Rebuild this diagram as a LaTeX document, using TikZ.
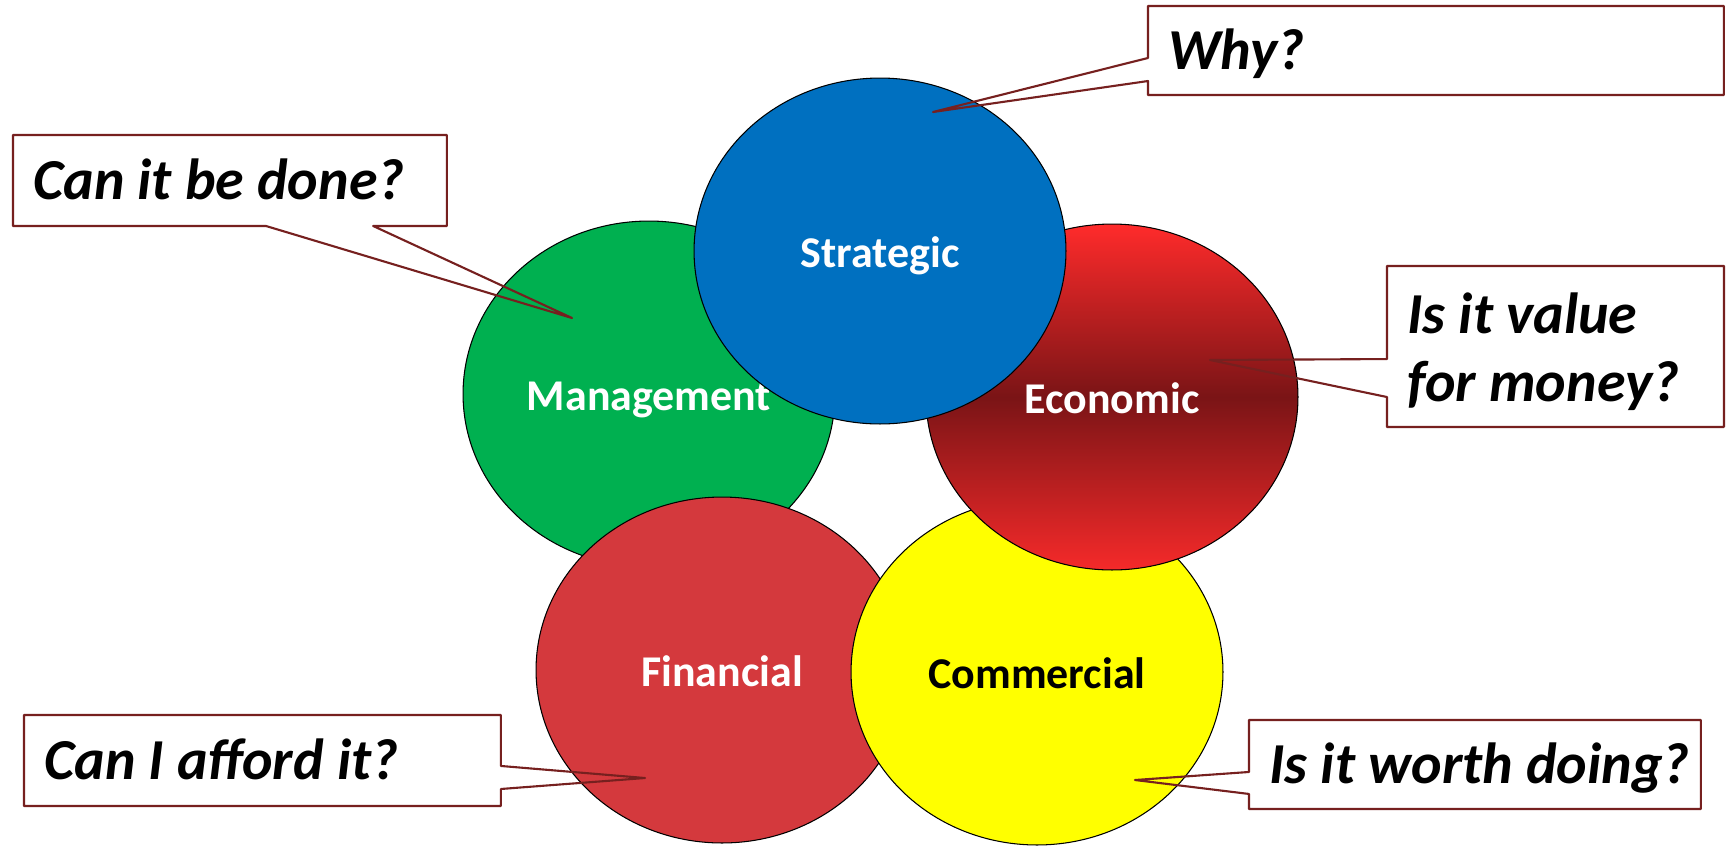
\documentclass[tikz,border=0pt]{standalone}
\usepackage{fontspec}
\setmainfont{Carlito}
\usepackage{tikz}
\usetikzlibrary{shapes.geometric, calc}
\definecolor{mgmtgreen}{HTML}{00B050}
\definecolor{stratblue}{HTML}{0070C0}
\definecolor{finred}{HTML}{D4393D}
\definecolor{commyellow}{HTML}{FFFF00}
\definecolor{econtop}{HTML}{FF2B2B}
\definecolor{econmid}{HTML}{7A1416}
\definecolor{econbot}{HTML}{F52A2A}
\definecolor{calloutred}{HTML}{76201F}
\tikzstyle{bubble} = [ellipse, draw = black, line width=0.6pt, minimum width = 7.44cm, minimum height = 6.92cm, inner sep=0pt, text=white, text height=22.5pt, text depth=3.2pt, font=\fontsize{25}{30}\selectfont\bfseries]
\tikzstyle{qbox} = [rectangle, anchor=north west, outer sep=0pt, inner sep=0pt]
\tikzstyle{qtext} = [anchor=west, inner sep=0pt, align=flush left, font=\fontsize{33}{39}\selectfont\bfseries\itshape]
\tikzstyle{qline} = [qtext, text height=26.4pt, text depth=5.3pt]
\tikzstyle{callout} = [draw = calloutred, line width=1.2pt, line join=round]

\begin{document}
\begin{tikzpicture}[x=0.02cm, y=-0.02cm]
      \useasboundingbox (0,0) rectangle (1736,846);
      % the five cases, back to front
      \node[bubble, fill=mgmtgreen] (mgmt) at (649,394) {Management};
      \node[bubble, fill=finred] (fin) at (722,670) {Financial};
      \node[bubble, fill=commyellow, text=black] (comm) at (1037,672) {Commercial};
      \node[bubble, top color=econtop, bottom color=econbot, middle color=econmid] (econ) at (1112,397) {Economic};
      \node[bubble, fill=stratblue] (strat) at (880,251) {Strategic};

      % question boxes and their texts
      \node[qbox, minimum width=11.52cm, minimum height=1.78cm] (why) at (1148,6) {};
      \node[qbox, minimum width=8.68cm, minimum height=1.82cm] (done) at (13,135) {};
      \node[qbox, minimum width=6.74cm, minimum height=3.22cm] (value) at (1387,266) {};
      \node[qbox, minimum width=9.54cm, minimum height=1.82cm] (afford) at (24,715) {};
      \node[qbox, minimum width=9.04cm, minimum height=1.78cm] (worth) at (1249,720) {};

      \node[qline] (whytext) at ([xshift=0.4cm]why.west) {Why?};
      \node[qline] (donetext) at ([xshift=0.4cm]done.west) {Can it be done?};
      \node[qtext] (valuetext) at ([xshift=0.4cm,yshift=-0.1cm]value.west) {Is it value\\for money?};
      \node[qline] (affordtext) at ([xshift=0.4cm]afford.west) {Can I afford it?};
      \node[qline] (worthtext) at ([xshift=0.4cm]worth.west) {Is it worth doing?};

      % pointer tips
      \coordinate (cwhy) at (933,112);
      \coordinate (cdone) at (572,318);
      \coordinate (cvalue) at (1210,360);
      \coordinate (cafford) at (645,778);
      \coordinate (cworth) at (1135,780);

      \draw[callout] (why.north west) -- (why.north east) -- (why.south east) -- (why.south west)
         -- ($(why.north west)!0.843!(why.south west)$) -- (cwhy) -- ($(why.north west)!0.584!(why.south west)$) -- cycle;
      \draw[callout] (done.north west) -- (done.north east) -- (done.south east)
         -- ($(done.south west)!0.83!(done.south east)$) -- (cdone) -- ($(done.south west)!0.583!(done.south east)$) -- (done.south west) -- cycle;
      \draw[callout] (value.north west) -- (value.north east) -- (value.south east) -- (value.south west)
         -- ($(value.north west)!0.814!(value.south west)$) -- (cvalue) -- ($(value.north west)!0.578!(value.south west)$) -- cycle;
      \draw[callout] (afford.north west) -- (afford.north east) -- ($(afford.north east)!0.56!(afford.south east)$)
         -- (cafford) -- ($(afford.north east)!0.813!(afford.south east)$) -- (afford.south east) -- (afford.south west) -- cycle;
      \draw[callout] (worth.north west) -- (worth.north east) -- (worth.south east) -- (worth.south west)
         -- ($(worth.north west)!0.831!(worth.south west)$) -- (cworth) -- ($(worth.north west)!0.584!(worth.south west)$) -- cycle;
\end{tikzpicture}
\end{document}
